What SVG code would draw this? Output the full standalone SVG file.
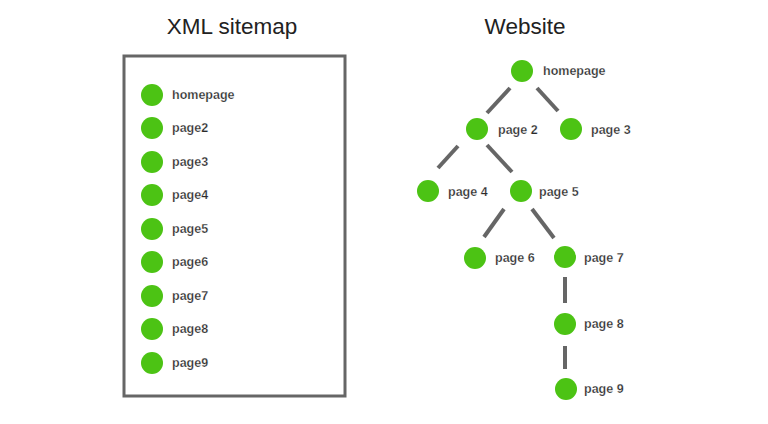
<svg xmlns="http://www.w3.org/2000/svg" width="768" height="424" viewBox="0 0 768 424">
<style>
.t{font-family:"Liberation Sans",Arial,sans-serif;font-size:22.5px;fill:#222;text-anchor:middle}
.l{font-family:"Liberation Sans",Arial,sans-serif;font-size:12.5px;fill:#2a2a2a;font-weight:bold;stroke:#fff;stroke-width:0.25}
.n{fill:#4cc314}
.c{stroke:#666;stroke-width:4;fill:none}
</style>
<rect width="768" height="424" fill="#fff"/>
<text class="t" x="232" y="34">XML sitemap</text>
<text class="t" x="525" y="34">Website</text>
<rect x="124" y="56" width="221" height="340" fill="none" stroke="#666" stroke-width="3"/>
<g id="sitemap">
<g id="s1"><circle class="n" cx="152" cy="95" r="11"/><text class="l" x="172" y="99">homepage</text></g>
<g id="s2"><circle class="n" cx="152" cy="128" r="11"/><text class="l" x="172" y="132">page2</text></g>
<g id="s3"><circle class="n" cx="152" cy="162" r="11"/><text class="l" x="172" y="166">page3</text></g>
<g id="s4"><circle class="n" cx="152" cy="195" r="11"/><text class="l" x="172" y="199">page4</text></g>
<g id="s5"><circle class="n" cx="152" cy="229" r="11"/><text class="l" x="172" y="233">page5</text></g>
<g id="s6"><circle class="n" cx="152" cy="262" r="11"/><text class="l" x="172" y="266">page6</text></g>
<g id="s7"><circle class="n" cx="152" cy="296" r="11"/><text class="l" x="172" y="300">page7</text></g>
<g id="s8"><circle class="n" cx="152" cy="329" r="11"/><text class="l" x="172" y="333">page8</text></g>
<g id="s9"><circle class="n" cx="152" cy="363" r="11"/><text class="l" x="172" y="367">page9</text></g>
</g>
<g id="connectors">
<line class="c" x1="510" y1="88" x2="487" y2="113"/>
<line class="c" x1="537" y1="88" x2="558" y2="111"/>
<line class="c" x1="458" y1="146" x2="438" y2="168"/>
<line class="c" x1="487" y1="145" x2="512" y2="172"/>
<line class="c" x1="504" y1="209" x2="484" y2="237"/>
<line class="c" x1="532" y1="209" x2="554" y2="238"/>
<line class="c" x1="565" y1="277" x2="565" y2="303"/>
<line class="c" x1="565" y1="346" x2="565" y2="369"/>
</g>
<g id="homepage"><circle class="n" cx="522" cy="71" r="11"/><text class="l" x="543" y="75">homepage</text></g>
<g id="page2"><circle class="n" cx="477" cy="129" r="11"/><text class="l" x="498" y="134">page 2</text></g>
<g id="page3"><circle class="n" cx="571" cy="129" r="11"/><text class="l" x="591" y="134">page 3</text></g>
<g id="page4"><circle class="n" cx="428" cy="191" r="11"/><text class="l" x="448" y="196">page 4</text></g>
<g id="page5"><circle class="n" cx="521" cy="191" r="11"/><text class="l" x="539" y="196">page 5</text></g>
<g id="page6"><circle class="n" cx="475" cy="258" r="11"/><text class="l" x="495" y="262">page 6</text></g>
<g id="page7"><circle class="n" cx="565" cy="257" r="11"/><text class="l" x="584" y="262">page 7</text></g>
<g id="page8"><circle class="n" cx="565" cy="324" r="11"/><text class="l" x="584" y="328">page 8</text></g>
<g id="page9"><circle class="n" cx="566" cy="389" r="11"/><text class="l" x="584" y="393">page 9</text></g>
</svg>
